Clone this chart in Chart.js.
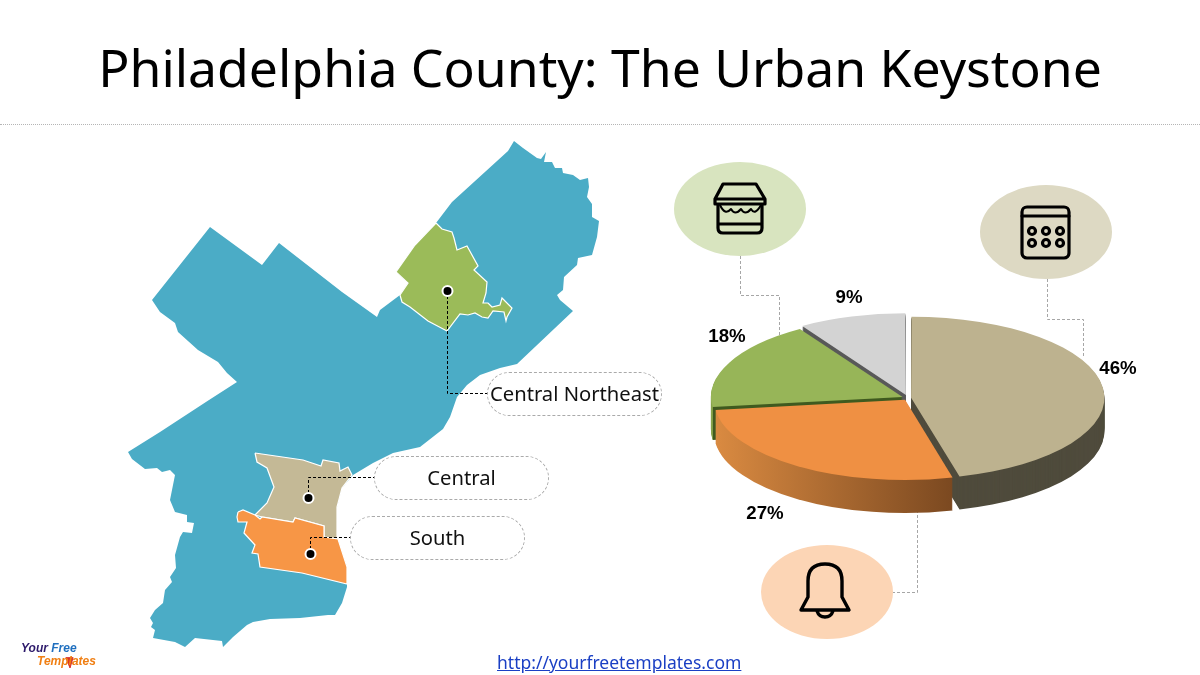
<!DOCTYPE html>
<html lang="en">
  <head>
    <meta charset="UTF-8" />
    <title>Philadelphia County: The Urban Keystone</title>
    <script src="https://cdn.jsdelivr.net/npm/chart.js@4"></script>
    <style>
      html, body { margin: 0; background: #fff; }
      #slide { position: relative; width: 1200px; height: 675px; overflow: hidden; font-family: "Noto Sans", sans-serif; }
      #slide > * { position: absolute; }
      #title { left: 0; width: 1200px; top: 27px; text-align: center; font-size: 51.7px; line-height: 80px; color: #000; white-space: nowrap; }
      #rule { left: 0; width: 1200px; top: 124px; border-top: 1px dotted #b5b5b5; }
      #map { left: 0; top: 0; }
      #pie { left: 658px; top: 148px; }
      .oval { border-radius: 50%; width: 132px; height: 94px; }
      .pill { box-sizing: border-box; width: 175px; height: 44px; border: 1px dashed #aaa; border-radius: 22px; background: #fff; text-align: center; line-height: 41px; font-size: 20.2px; color: #111; white-space: nowrap; }
      .pct { font: bold 18.67px "Liberation Sans", sans-serif; color: #000; width: 60px; margin-left: -30px; text-align: center; line-height: 22px; }
      svg.icon { fill: none; stroke: #000; stroke-width: 3.2; stroke-linejoin: round; stroke-linecap: round; overflow: visible; left: 0; top: 0; }
      #link { left: 497px; top: 650px; font-size: 17.5px; line-height: 24px; color: #1a3fc4; text-decoration: underline; }
      .logo { font: italic bold 12px "Liberation Sans", sans-serif; line-height: 14px; white-space: nowrap; }
    </style>
  </head>
  <body>
    <div id="slide">
      <div class="oval" style="left:674px;top:162px;background:#d8e4bf"></div>
      <div class="oval" style="left:980px;top:185px;background:#ddd9c3"></div>
      <div class="oval" style="left:761px;top:545px;background:#fcd5b5"></div>
      <canvas id="map" width="1200" height="675"></canvas>
      <canvas id="pie" width="500" height="500"></canvas>
      <div id="title">Philadelphia County: The Urban Keystone</div>
      <div id="rule"></div>
      <svg class="icon" width="1200" height="675">
        <path d="M723 184H756L765 199V204H715V199ZM715 199H765M718 205V228Q718 233 723 233H757Q762 233 762 228V205M718 224H762" />
        <path d="M720 205Q725 216 731 209Q735 216 741 209Q745 216 751 209Q755 216 761 205" stroke-width="2" />
        <rect x="1022" y="207" width="47" height="51" rx="5" />
        <path d="M1022 216H1069" />
        <circle cx="1032" cy="231" r="3.5" /><circle cx="1046" cy="231" r="3.5" /><circle cx="1060" cy="231" r="3.5" />
        <circle cx="1032" cy="243" r="3.5" /><circle cx="1046" cy="243" r="3.5" /><circle cx="1060" cy="243" r="3.5" />
        <path d="M801 610L808 597V581Q808 564 825 564Q842 564 842 581V597L849 610ZM817 611Q819 617 825 617Q831 617 833 611" stroke-width="3.4" />
        <path d="M66 658L70 668L73 658Z" fill="#d9302a" stroke="#d9302a" stroke-width="1" />
      </svg>
      <div id="pills"></div>
      <div id="pcts"></div>
      <a id="link" href="http://yourfreetemplates.com">http://yourfreetemplates.com</a>
      <div class="logo" style="left:21px;top:641px"><span style="color:#2d1a6b">Your</span> <span style="color:#1f6fbf">Free</span></div>
      <div class="logo" style="left:37px;top:654px;color:#f07f13">Templates</div>
    </div>
    <script>
      // pie values, clockwise from 12 o'clock
      const pieLabels = ['Tan', 'Orange', 'Green', 'Grey']
      const pieValues = [46, 27, 18, 9]

      // map outlines, in page units
      const countyOutline = [
        [514,141],[523,148],[537,158],[541,159],[546,152],[544,162],[552,162],[555,168],[562,168],[563,173],[573,175],[580,180],[588,178],[589,187],[587,197],[592,204],[592,217],[599,221],[597,237],[592,255],[578,258],[577,265],[564,277],[563,290],[557,295],[560,300],[573,311],[517,364],[500,368],[480,375],[467,385],[457,397],[450,417],[443,429],[420,447],[393,453],[373,463],[353,475],[342,488],[337,507],[337,538],[347,567],[347,587],[342,603],[335,615],[328,615],[300,618],[270,619],[253,622],[247,625],[233,637],[223,647],[222,641],[195,638],[185,647],[175,642],[153,638],[155,630],[151,627],[153,623],[150,618],[155,610],[163,603],[165,590],[172,582],[170,577],[176,568],[175,555],[180,537],[183,532],[192,533],[194,523],[187,522],[187,515],[175,512],[170,500],[173,485],[175,475],[170,470],[162,472],[157,468],[145,469],[132,459],[128,452],[160,432],[209,400],[237,382],[227,373],[218,362],[198,350],[178,332],[175,323],[160,312],[152,300],[210,227],[262,265],[279,243],[342,292],[377,317],[380,310],[400,295],[408,283],[396,272],[415,245],[436,223],[452,202],[508,151]
      ]
      const northeastOutline = [
        [436,223],[442,229],[452,232],[454,238],[457,250],[467,246],[478,266],[474,270],[487,282],[486,293],[483,303],[488,303],[492,307],[500,305],[502,298],[512,308],[507,317],[506,321],[504,312],[493,311],[488,318],[482,317],[475,313],[468,315],[460,314],[447,331],[428,321],[410,307],[402,302],[400,295],[408,283],[396,272],[415,245]
      ]
      const centralOutline = [
        [255,453],[303,460],[321,466],[323,460],[339,463],[340,471],[348,467],[352,475],[342,488],[337,507],[337,539],[324,537],[324,526],[295,518],[293,522],[262,517],[255,515],[267,503],[274,487],[267,468],[257,462]
      ]
      const southOutline = [
        [238,512],[243,510],[255,515],[260,519],[262,517],[293,522],[295,518],[324,526],[324,537],[338,539],[347,567],[347,584],[302,573],[260,567],[258,554],[252,553],[255,545],[244,533],[247,522],[238,522],[237,517]
      ]

      // callouts
      const calloutLabels = ['Central Northeast', 'Central', 'South']
      const calloutDots = [[447.5,291],[308.5,498],[310.5,554]]
      const calloutLeaders = [
        [[447.5,296],[447.5,393.5],[488,393.5]],
        [[308.5,493],[308.5,477.5],[375,477.5]],
        [[310.5,549],[310.5,537.5],[351,537.5]]
      ]
      const iconLeaders = [
        [[740.5,256],[740.5,295.5],[779.5,295.5],[779.5,335]],
        [[1047.5,279],[1047.5,319.5],[1083.5,319.5],[1083.5,358]],
        [[917.5,510],[917.5,592.5],[893,592.5]]
      ]

      const toPoints = (list) => list.map(([x, y]) => ({ x, y }))
      const shape = (list, color, edge) => ({
        data: toPoints(list.concat([list[0]])),
        showLine: true, fill: 'shape', backgroundColor: color,
        borderColor: edge, borderWidth: edge ? 1.2 : 0, pointRadius: 0,
      })
      const dashed = (list, color) => ({
        data: toPoints(list), showLine: true, fill: false,
        borderColor: color, borderWidth: 1, borderDash: [3, 2], pointRadius: 0,
      })

      // first dataset ends up on top
      new Chart(document.getElementById('map'), {
        type: 'scatter',
        data: {
          datasets: [
            {
              data: toPoints(calloutDots), pointRadius: 5, pointBorderWidth: 2,
              pointBackgroundColor: '#000', pointBorderColor: '#fff', showLine: false,
            },
            ...calloutLeaders.map((l) => dashed(l, '#000')),
            ...iconLeaders.map((l) => dashed(l, '#a6a6a6')),
            shape(southOutline, '#f79646', '#fff'),
            shape(centralOutline, '#c4b996', '#fff'),
            shape(northeastOutline, '#9bbb59', '#fff'),
            shape(countyOutline, '#4bacc6', null),
          ],
        },
        options: {
          responsive: false,
          animation: false,
          layout: { padding: 0, autoPadding: false },
          plugins: { legend: { display: false }, tooltip: { enabled: false } },
          scales: {
            x: { display: false, min: 0, max: 1200 },
            y: { display: false, min: 0, max: 675, reverse: true },
          },
        },
      })

      // tilted pie: tops squashed by tilt, walls are the same arcs repeated lower down
      const tilt = 0.42
      const depth = 33
      const wallOrder = [3, 2, 0, 1] // back to front

      function wallFill(ctx, i, cx) {
        if (i === 0) return '#4f4b3c'
        if (i === 3) return '#595959'
        const left = cx - 196
        const g = ctx.createLinearGradient(left, 0, cx + 50, 0)
        if (i === 1) {
          g.addColorStop(0, '#dc8c42')
          g.addColorStop(1, '#7a4820')
        } else {
          g.addColorStop(0, '#86a34a')
          g.addColorStop(0.024, '#86a34a')
          g.addColorStop(0.025, '#3f5a1f')
          g.addColorStop(1, '#3f5a1f')
        }
        return g
      }

      const tiltPlugin = {
        id: 'tilt',
        beforeDatasetDraw(chart, args) {
          const ctx = chart.ctx
          const arcs = chart.getDatasetMeta(args.index).data
          const { x: cx, y: cy } = arcs[0]
          ctx.save()
          for (const i of wallOrder) {
            const arc = arcs[i]
            const topOptions = arc.options
            arc.options = { ...topOptions, backgroundColor: wallFill(ctx, i, cx) }
            for (let d = depth; d >= 1; d--) {
              ctx.save()
              ctx.translate(cx, cy + d)
              ctx.scale(1, tilt)
              ctx.translate(-cx, -cy)
              arc.draw(ctx)
              ctx.restore()
            }
            arc.options = topOptions
          }
          ctx.translate(cx, cy)
          ctx.scale(1, tilt)
          ctx.translate(-cx, -cy)
        },
        afterDatasetDraw(chart) {
          chart.ctx.restore()
        },
      }

      new Chart(document.getElementById('pie'), {
        type: 'pie',
        data: {
          labels: pieLabels,
          datasets: [{
            data: pieValues,
            backgroundColor: ['#bdb28f', '#ef9043', '#97b558', '#d3d3d3'],
            borderWidth: 0,
            offset: [12.5, 21, 24, 30],
          }],
        },
        options: {
          responsive: false,
          animation: false,
          radius: 191,
          plugins: { legend: { display: false }, tooltip: { enabled: false } },
        },
        plugins: [tiltPlugin],
      })

      // html text on top of the canvases
      const pillBoxes = [[487, 372], [374, 456], [350, 516]]
      document.getElementById('pills').innerHTML = calloutLabels.map((t, i) =>
        `<div class="pill" style="position:absolute;left:${pillBoxes[i][0]}px;top:${pillBoxes[i][1]}px">${t}</div>`).join('')
      const pctSpots = [[1118, 357], [765, 502], [727, 325], [849, 286]]
      document.getElementById('pcts').innerHTML = pieValues.map((v, i) =>
        `<div class="pct" style="position:absolute;left:${pctSpots[i][0]}px;top:${pctSpots[i][1]}px">${v}%</div>`).join('')
    </script>
  </body>
</html>
